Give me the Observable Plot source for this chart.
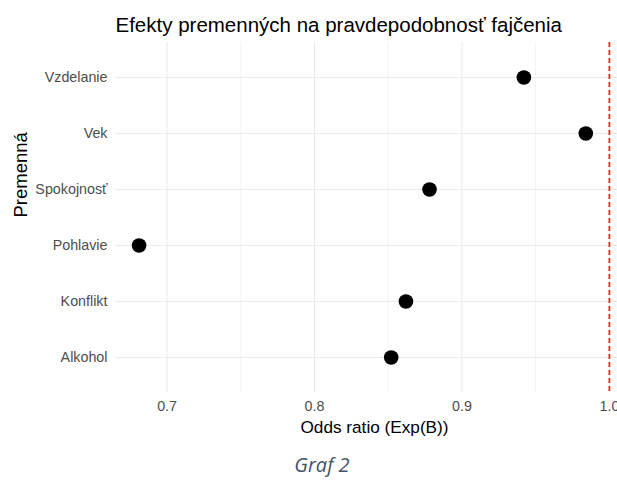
<!DOCTYPE html>
<html>
<head>
<meta charset="utf-8">
<script src="https://cdn.jsdelivr.net/npm/d3@7"></script>
<script src="https://cdn.jsdelivr.net/npm/@observablehq/plot@0.6"></script>
<style>
  html, body { margin: 0; padding: 0; background: #fff; }
  #wrap { position: relative; width: 617px; height: 480px; }
  #caption { position: absolute; top: 453px; left: 222px; width: 200px; text-align: center;
    font-family: "Open Sans", sans-serif; font-style: italic; font-size: 20px; color: #44546a; line-height: 24px; }
</style>
</head>
<body>
<div id="wrap"><div id="chart"></div><div id="caption">Graf 2</div></div>
<script>
const variables = ["Vzdelanie", "Vek", "Spokojnosť", "Pohlavie", "Konflikt", "Alkohol"];
const oddsRatios = [0.942, 0.984, 0.878, 0.681, 0.862, 0.852];
const majorTicks = [0.7, 0.8, 0.9, 1.0];
const minorTicks = [0.75, 0.85, 0.95];
const referenceLine = [1.0];
const titleText = "Efekty premenných na pravdepodobnosť fajčenia";
const xTitle = "Odds ratio (Exp(B))";
const yTitle = "Premenná";

const data = variables.map((v, i) => ({variable: v, or: oddsRatios[i]}));
const grid = "#ebebeb";

const chart = Plot.plot({
  width: 617,
  height: 445,
  marginTop: 42,
  marginBottom: 53,
  marginLeft: 115,
  marginRight: 0,
  style: {fontFamily: "'Liberation Sans', Arial, sans-serif", background: "white"},
  x: {domain: [0.665, 1.0055]},
  y: {type: "point", domain: variables, padding: 0.6},
  marks: [
    Plot.ruleX(minorTicks, {stroke: grid, strokeWidth: 0.6}),
    Plot.ruleX(majorTicks, {stroke: grid, strokeWidth: 1.1}),
    Plot.ruleY(variables, {stroke: grid, strokeWidth: 1.1}),
    Plot.dot(data, {x: "or", y: "variable", r: 7.3, fill: "black", stroke: "none"}),
    Plot.ruleX(referenceLine, {stroke: "#ff2020", strokeWidth: 1.8, strokeDasharray: "5,3"}),
    Plot.axisX({ticks: majorTicks, tickFormat: d => d.toFixed(1), tickSize: 0, tickPadding: 8,
      fontSize: 14.3, fill: "#4d4d4d", label: null}),
    Plot.axisY({tickSize: 0, tickPadding: 8, fontSize: 14.3, fill: "#4d4d4d", label: null}),
    Plot.text([xTitle], {frameAnchor: "bottom", dx: 8, dy: 40, fontSize: 17.2, fill: "black"}),
    Plot.text([yTitle], {frameAnchor: "left", dx: -94, rotate: -90, fontSize: 18.5, fill: "black"}),
    Plot.text([titleText], {frameAnchor: "top-left", textAnchor: "start", lineAnchor: "bottom", dy: -11, fontSize: 20.5, fill: "black"})
  ]
});
document.getElementById("chart").appendChild(chart);
</script>
</body>
</html>
